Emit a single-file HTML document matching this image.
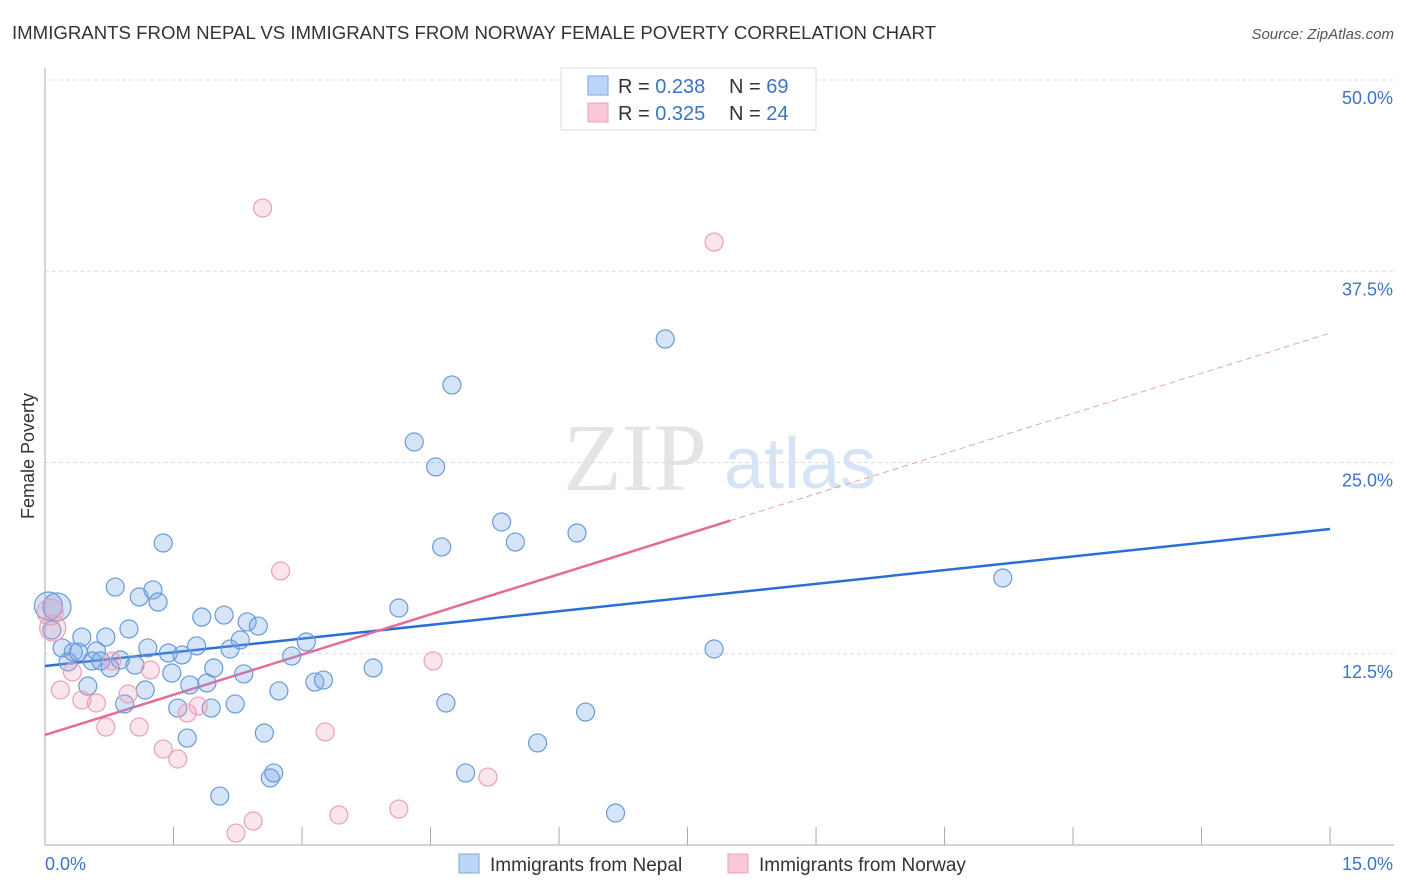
<!DOCTYPE html>
<html><head><meta charset="utf-8"><style>
body{margin:0;background:#fff;font-family:"Liberation Sans",sans-serif}
svg{display:block}
</style></head><body>
<svg id="chart" width="1406" height="892" xmlns="http://www.w3.org/2000/svg">
<text x="12" y="39" font-size="18" fill="#333" textLength="924" lengthAdjust="spacingAndGlyphs">IMMIGRANTS FROM NEPAL VS IMMIGRANTS FROM NORWAY FEMALE POVERTY CORRELATION CHART</text>
<text x="1394" y="39" font-size="15" fill="#555" font-style="italic" text-anchor="end">Source: ZipAtlas.com</text>
<text x="34" y="456" font-size="18" fill="#333" text-anchor="middle" transform="rotate(-90 34 456)">Female Poverty</text>
<g>
<text x="635" y="490" font-size="96" fill="#e4e4e4" font-family="Liberation Serif,serif" text-anchor="middle">ZIP</text>
<text x="800" y="488" font-size="72" fill="#d6e4f5" text-anchor="middle">atlas</text>
</g>
<g id="grid"></g>
<g id="axes"></g>
<g id="lines"></g>
<g id="points"></g>
<g>
<rect x="561" y="68" width="255" height="62" fill="#fff" stroke="#ddd"/>
<rect x="588" y="76" width="20" height="19" fill="#bcd4f5" stroke="#7ea6e0"/>
<rect x="588" y="103" width="20" height="19" fill="#fac8d7" stroke="#eaa0b8"/>
<text x="618" y="93" font-size="20" fill="#333">R = <tspan fill="#3b73c9">0.238</tspan></text>
<text x="729" y="93" font-size="20" fill="#333">N = <tspan fill="#3b73c9">69</tspan></text>
<text x="618" y="120" font-size="20" fill="#333">R = <tspan fill="#3b73c9">0.325</tspan></text>
<text x="729" y="120" font-size="20" fill="#333">N = <tspan fill="#3b73c9">24</tspan></text>
</g>
<g>
<rect x="459" y="854" width="20" height="19" fill="#bcd4f5" stroke="#7ea6e0"/>
<text x="490" y="871" font-size="19" fill="#333">Immigrants from Nepal</text>
<rect x="728" y="854" width="20" height="19" fill="#fac8d7" stroke="#eaa0b8"/>
<text x="759" y="871" font-size="19" fill="#333">Immigrants from Norway</text>
</g>
</svg>
<script>
const yTicks=[12.5,25,37.5,50];
const yTickLabels=["12.5%","25.0%","37.5%","50.0%"];
const xTicks=[0,1.5,3,4.5,6,7.5,9,10.5,12,13.5,15];
const nepalX=[0.04,0.14,0.08,0.20,0.27,0.33,0.39,0.43,0.50,0.55,0.60,0.65,0.71,0.76,0.82,0.88,0.93,0.98,1.05,1.10,1.17,1.20,1.26,1.32,1.38,1.44,1.48,1.55,1.60,1.66,1.69,1.77,1.83,1.89,1.94,1.97,2.04,2.09,2.16,2.22,2.28,2.32,2.36,2.49,2.56,2.63,2.67,2.73,2.88,3.05,3.15,3.25,3.83,4.13,4.31,4.56,4.63,4.68,4.75,4.91,5.33,5.49,5.75,6.21,6.31,6.66,7.24,7.81,11.18];
const nepalY=[15.62,15.56,14.05,12.88,11.96,12.61,12.61,13.59,10.39,12.03,12.68,12.03,13.59,11.57,16.86,12.09,9.22,14.12,11.76,16.21,10.13,12.88,16.67,15.88,19.74,12.55,11.24,8.95,12.42,6.99,10.46,13.01,14.90,10.59,8.95,11.57,3.20,15.03,12.81,9.22,13.40,11.18,14.58,14.31,7.32,4.38,4.71,10.07,12.35,13.27,10.65,10.78,11.57,15.49,26.34,24.71,19.48,9.28,30.07,4.71,21.11,19.80,6.67,20.39,8.69,2.09,33.07,12.81,17.45];
const norwayX=[0.06,0.09,0.18,0.32,0.43,0.60,0.71,0.78,0.97,1.10,1.23,1.38,1.55,1.66,1.79,2.23,2.43,2.54,2.75,3.27,3.43,4.13,4.53,5.17,7.81];
const norwayY=[15.23,14.18,10.13,11.31,9.48,9.28,7.71,12.03,9.87,7.71,11.44,6.27,5.62,8.63,9.08,0.78,1.57,41.63,17.91,7.39,1.96,2.35,12.03,4.44,39.41];
const nepalTrend=[11.70,20.65];
const norwayTrend=[7.19,33.46];
const norwaySolidEnd=8.0;

const NS="http://www.w3.org/2000/svg";
const X=v=>45+v*85.67, Y=v=>845-v*15.3;
function mk(tag,attrs,parent){const e=document.createElementNS(NS,tag);for(const k in attrs)e.setAttribute(k,attrs[k]);parent.appendChild(e);return e;}
const grid=document.getElementById('grid'),axes=document.getElementById('axes'),lines=document.getElementById('lines'),pts=document.getElementById('points');
yTicks.forEach((t,i)=>{
 const l=mk('line',{x1:45,x2:1394,y1:Y(t),y2:Y(t),stroke:'#ddd','stroke-dasharray':'4,3'},grid);
 
 
 const tx=mk('text',{x:1393,y:Y(t)+24,'font-size':18,fill:'#3b73c9','text-anchor':'end'},grid);
 tx.textContent=yTickLabels[i];
 
 
});
const ax=mk('line',{x1:45,x2:45,y1:68,y2:845,stroke:'#aaa'},axes);


const bx=mk('line',{x1:45,x2:1394,y1:845,y2:845,stroke:'#aaa'},axes);


xTicks.forEach(t=>{const l=mk('line',{x1:X(t),x2:X(t),y1:827,y2:845,stroke:'#aaa'},axes);
 
 });
[[0,'0.0%','start',45],[15,'15.0%','end',1393]].forEach(a=>{const t=mk('text',{x:a[3],y:870,'font-size':18,fill:'#3b73c9','text-anchor':a[2]},axes);t.textContent=a[1];
 
 });
function dot(x,y,r,fill,stroke,name){const c=mk('circle',{cx:X(x),cy:Y(y),r:r,fill:fill,stroke:stroke,'stroke-width':1.2},pts);
 
 }
nepalX.forEach((x,i)=>dot(x,nepalY[i],i<2?14:9,'rgba(120,165,230,0.3)','#6a9ad9','nepal-point'));
norwayX.forEach((x,i)=>dot(x,norwayY[i],i<2?13:9,'rgba(240,150,180,0.25)','#eba0b9','norway-point'));
const bl=mk('line',{x1:X(0),y1:Y(nepalTrend[0]),x2:X(15),y2:Y(nepalTrend[1]),stroke:'#2a6fd6','stroke-width':2.5},lines);


const ny=x=>norwayTrend[0]+(norwayTrend[1]-norwayTrend[0])*x/15;
const pl=mk('line',{x1:X(0),y1:Y(ny(0)),x2:X(norwaySolidEnd),y2:Y(ny(norwaySolidEnd)),stroke:'#e56b98','stroke-width':2.5},lines);


const pd=mk('line',{x1:X(norwaySolidEnd),y1:Y(ny(norwaySolidEnd)),x2:X(15),y2:Y(ny(15)),stroke:'#eba0b9','stroke-width':1,'stroke-dasharray':'6,4'},lines);


</script>
</body></html>
